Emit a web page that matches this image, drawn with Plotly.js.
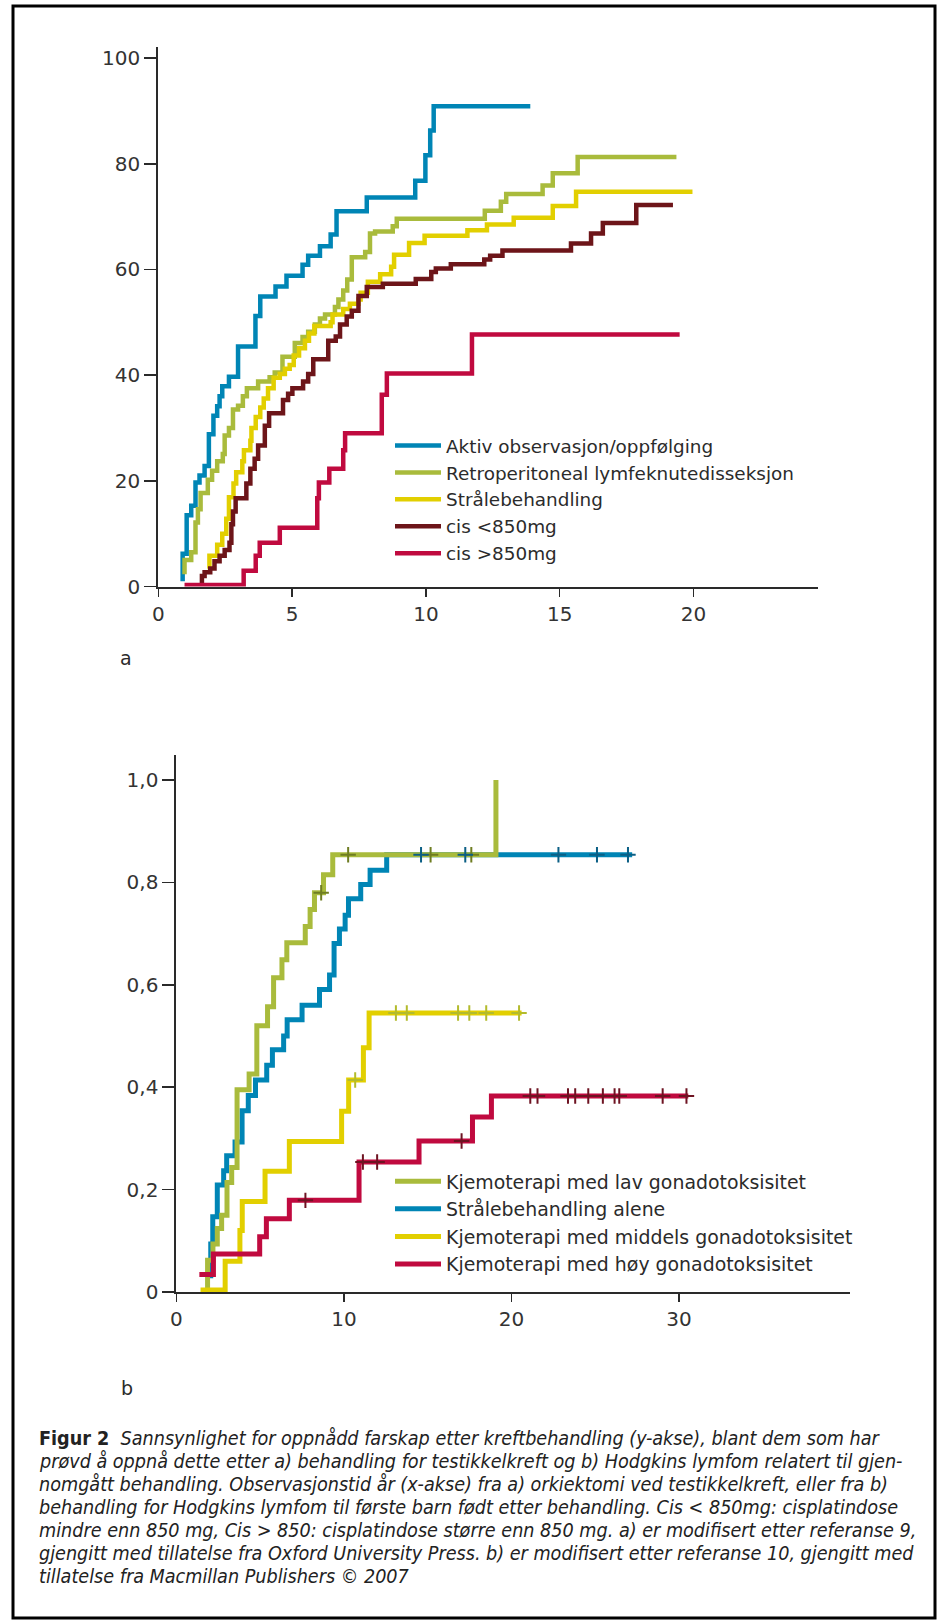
<!DOCTYPE html>
<html>
<head>
<meta charset="utf-8">
<script src="https://cdn.plot.ly/plotly-3.0.1.min.js"></script>
<style>
  html, body { margin: 0; padding: 0; background: #fff; }
  #chart { width: 941px; height: 1622px; }
</style>
</head>
<body>
<div id="chart"></div>
<script>
// ---------- Chart a: testikkelkreft ----------
const aNames = ["Aktiv observasjon/oppfølging", "Retroperitoneal lymfeknutedisseksjon", "Strålebehandling", "cis <850mg", "cis >850mg"];

const aktivX = [0.91, 0.91, 1.06, 1.23, 1.39, 1.54, 1.73, 1.89, 2.06, 2.2, 2.29, 2.39, 2.64, 2.98, 3.63, 3.81, 4.38, 4.79, 5.39, 5.6, 6.04, 6.44, 6.66, 7.79, 9.6, 9.98, 10.16, 10.29, 13.9];
const aktivY = [1, 6.2, 13.5, 15.3, 19.7, 21, 22.8, 28.8, 32.3, 34.1, 36, 37.9, 39.7, 45.4, 51.2, 54.9, 56.8, 58.8, 60.9, 62.6, 64.4, 66.6, 71, 73.6, 76.8, 81.6, 86.3, 90.9, 90.9];

const retroX = [0.98, 0.98, 1.23, 1.39, 1.48, 1.58, 1.85, 2.01, 2.2, 2.41, 2.48, 2.64, 2.79, 2.98, 3.16, 3.31, 3.73, 4.16, 4.35, 4.64, 5.1, 5.39, 5.6, 5.85, 6.04, 6.23, 6.6, 6.73, 6.91, 7.06, 7.23, 7.73, 7.91, 8.1, 8.76, 8.91, 12.2, 12.8, 13.0, 14.36, 14.74, 15.67, 19.36];
const retroY = [2.3, 5.0, 6.5, 12.1, 14.6, 17.7, 20.2, 21.9, 23.7, 25.1, 28.6, 30, 33.5, 34.2, 36, 37.5, 38.8, 39.6, 40.5, 43.5, 46.1, 47.2, 48.2, 49.6, 50.7, 51.5, 52.9, 54.3, 56, 58.1, 62.3, 63.3, 66.8, 67.2, 68.2, 69.6, 71.1, 72.8, 74.3, 75.9, 78.2, 81.3, 81.3];

const straleX = [1.85, 1.91, 2.2, 2.39, 2.54, 2.64, 2.81, 2.91, 3.14, 3.2, 3.44, 3.48, 3.64, 3.81, 3.94, 4.1, 4.31, 4.54, 4.73, 4.91, 5.06, 5.26, 5.48, 5.63, 5.83, 6.44, 6.51, 6.91, 7.16, 7.48, 7.56, 7.83, 8.29, 8.7, 8.81, 9.37, 9.95, 11.55, 12.28, 13.28, 14.74, 15.61, 19.96];
const straleY = [3.4, 5.8, 7.9, 10, 12.8, 16.9, 19.5, 21.6, 23.7, 25.8, 27.6, 30, 32.1, 33.9, 35.6, 37.5, 39.5, 40.2, 41.2, 41.9, 43.7, 45.1, 46.5, 47.9, 49.3, 50, 51.5, 52.5, 53.5, 54.3, 55.6, 57.7, 59.1, 60.5, 62.8, 65, 66.4, 67.4, 68.5, 69.8, 72.0, 74.7, 74.7];

const cisLowX = [1.63, 1.63, 1.73, 1.94, 2.1, 2.29, 2.48, 2.66, 2.73, 2.79, 2.89, 3.29, 3.44, 3.6, 3.73, 3.98, 4.14, 4.66, 4.85, 5.01, 5.41, 5.6, 5.79, 6.35, 6.63, 6.79, 7.04, 7.23, 7.48, 7.79, 8.39, 9.62, 10.2, 10.37, 10.93, 12.18, 12.4, 12.86, 15.42, 16.17, 16.61, 17.86, 19.23];
const cisLowY = [0.5, 2.0, 2.7, 3.4, 4.8, 5.8, 6.9, 8.3, 11.8, 14.2, 16.7, 19.5, 22.3, 24.2, 26.7, 30.4, 32.8, 35.3, 36.5, 37.5, 38.8, 40.2, 43, 46.5, 47.3, 49.6, 51.1, 52.2, 55, 56.7, 57.3, 58.2, 59.5, 60.2, 61, 61.9, 62.6, 63.6, 64.9, 66.8, 68.8, 72.2, 72.2];

const cisHighX = [0.98, 3.19, 3.64, 3.79, 4.54, 5.94, 6.0, 6.39, 6.91, 6.98, 8.35, 8.54, 11.72, 19.48];
const cisHighY = [0.3, 3, 5.8, 8.3, 11.1, 16.7, 19.7, 22.3, 25.8, 29, 36.3, 40.3, 47.7, 47.7];

const aXTicks = [0, 5, 10, 15, 20];
const aYTicks = [0, 20, 40, 60, 80, 100];

// ---------- Chart b: Hodgkins lymfom ----------
const bNames = ["Kjemoterapi med lav gonadotoksisitet", "Strålebehandling alene", "Kjemoterapi med middels gonadotoksisitet", "Kjemoterapi med høy gonadotoksisitet"];

const lavX = [1.86, 1.86, 2.18, 2.44, 2.7, 3.02, 3.3, 3.62, 4.34, 4.8, 5.44, 5.8, 6.3, 6.59, 7.69, 7.98, 8.24, 8.78, 9.33, 19.07, 19.07];
const lavY = [0, 0.062, 0.094, 0.124, 0.15, 0.214, 0.243, 0.395, 0.426, 0.52, 0.557, 0.614, 0.649, 0.682, 0.714, 0.747, 0.78, 0.815, 0.854, 0.854, 1.0];
const lavCensX = [8.64, 10.25, 15.17, 17.6];
const lavCensY = [0.78, 0.854, 0.854, 0.854];

const aleneX = [2.05, 2.05, 2.17, 2.44, 2.82, 3.0, 3.5, 3.92, 4.29, 4.72, 5.39, 5.73, 6.4, 6.61, 7.5, 8.54, 9.14, 9.41, 9.73, 10.07, 10.27, 11.0, 11.56, 12.55, 27.2];
const aleneY = [0.027, 0.094, 0.147, 0.209, 0.237, 0.266, 0.293, 0.354, 0.384, 0.414, 0.443, 0.473, 0.5, 0.532, 0.56, 0.591, 0.619, 0.681, 0.709, 0.736, 0.768, 0.796, 0.824, 0.854, 0.854];
const aleneCensX = [14.6, 17.24, 22.8, 25.1, 26.95];
const aleneCensY = [0.854, 0.854, 0.854, 0.854, 0.854];

const middelsX = [1.44, 2.91, 3.79, 3.93, 5.29, 6.74, 9.86, 10.28, 11.16, 11.5, 20.6];
const middelsY = [0.004, 0.06, 0.12, 0.177, 0.236, 0.294, 0.353, 0.414, 0.477, 0.545, 0.545];
const middelsCensX = [10.67, 13.1, 13.75, 16.81, 17.48, 18.49, 20.45];
const middelsCensY = [0.414, 0.545, 0.545, 0.545, 0.545, 0.545, 0.545];

const hoyX = [1.37, 2.21, 4.97, 5.37, 6.74, 10.9, 14.48, 17.67, 18.8, 30.55];
const hoyY = [0.034, 0.074, 0.108, 0.143, 0.179, 0.254, 0.295, 0.342, 0.383, 0.383];
const hoyCensX = [7.7, 11.13, 11.98, 17.02, 21.12, 21.55, 23.37, 23.8, 24.58, 25.45, 26.15, 26.43, 29.02, 30.44];
const hoyCensY = [0.179, 0.254, 0.254, 0.295, 0.383, 0.383, 0.383, 0.383, 0.383, 0.383, 0.383, 0.383, 0.383, 0.383];

const bXTicks = [0, 10, 20, 30];
const bYTicks = [0, 0.2, 0.4, 0.6, 0.8, 1.0];
const bYTickText = ["0", "0,2", "0,4", "0,6", "0,8", "1,0"];

const captionLines = [
  "<b>Figur 2</b>  <i>Sannsynlighet for oppnådd farskap etter kreftbehandling (y-akse), blant dem som har</i>",
  "<i>prøvd å oppnå dette etter a) behandling for testikkelkreft og b) Hodgkins lymfom relatert til gjen-</i>",
  "<i>nomgått behandling. Observasjonstid år (x-akse) fra a) orkiektomi ved testikkelkreft, eller fra b)</i>",
  "<i>behandling for Hodgkins lymfom til første barn født etter behandling. Cis &lt; 850mg: cisplatindose</i>",
  "<i>mindre enn 850 mg, Cis &gt; 850: cisplatindose større enn 850 mg. a) er modifisert etter referanse 9,</i>",
  "<i>gjengitt med tillatelse fra Oxford University Press. b) er modifisert etter referanse 10, gjengitt med</i>",
  "<i>tillatelse fra Macmillan Publishers © 2007</i>"
];

// ---------- styling ----------
const W = 941, H = 1622;
const px = v => v / W;
const py = v => 1 - v / H;

const C = {
  blue: "#0085b5", green: "#a9bb3c", yellow: "#e2cf00", dark: "#6d1519", crimson: "#c00a3f",
  greenC: "#6f7d22", blueC: "#0b5f85", yellowC: "#b3bb2c", crimsonC: "#6e1322"
};
const FONT = "DejaVu Sans, Liberation Sans, Arial, sans-serif";
const TXT = "#2b2b2b";

function stepTrace(x, y, name, color, xa, ya, leg, rank, w) {
  return { type: "scatter", mode: "lines", x: x, y: y, name: name,
    line: { shape: "hv", color: color, width: w },
    xaxis: xa, yaxis: ya, legend: leg, legendrank: rank, hoverinfo: "skip" };
}
function censTrace(x, y, color) {
  return { type: "scatter", mode: "markers", x: x, y: y, showlegend: false,
    marker: { symbol: "cross-thin", size: 11, line: { width: 2, color: color } },
    xaxis: "x2", yaxis: "y2", hoverinfo: "skip", cliponaxis: false };
}

const data = [
  stepTrace(aktivX, aktivY, aNames[0], C.blue, "x", "y", "legend", 1, 4.5),
  stepTrace(retroX, retroY, aNames[1], C.green, "x", "y", "legend", 2, 4.5),
  stepTrace(straleX, straleY, aNames[2], C.yellow, "x", "y", "legend", 3, 4.5),
  stepTrace(cisLowX, cisLowY, aNames[3], C.dark, "x", "y", "legend", 4, 4.5),
  stepTrace(cisHighX, cisHighY, aNames[4], C.crimson, "x", "y", "legend", 5, 4.5),

  stepTrace(aleneX, aleneY, bNames[1], C.blue, "x2", "y2", "legend2", 2, 5),
  stepTrace(lavX, lavY, bNames[0], C.green, "x2", "y2", "legend2", 1, 5),
  stepTrace(middelsX, middelsY, bNames[2], C.yellow, "x2", "y2", "legend2", 3, 5),
  stepTrace(hoyX, hoyY, bNames[3], C.crimson, "x2", "y2", "legend2", 4, 5),
  censTrace(lavCensX, lavCensY, C.greenC),
  censTrace(aleneCensX, aleneCensY, C.blueC),
  censTrace(middelsCensX, middelsCensY, C.yellowC),
  censTrace(hoyCensX, hoyCensY, C.crimsonC)
];

const axBase = {
  showline: true, linecolor: "#2a2a2a", linewidth: 2,
  ticks: "outside", tickcolor: "#2a2a2a", tickwidth: 1.5,
  showgrid: false, zeroline: false, fixedrange: true,
  tickfont: { family: FONT, size: 20, color: "#333" }
};

const legBase = {
  xanchor: "left", yanchor: "top", bgcolor: "rgba(0,0,0,0)", borderwidth: 0,
  itemwidth: 46, traceorder: "normal", tracegroupgap: 0, itemclick: false, itemdoubleclick: false
};

const annotations = [
  { text: "a", xref: "paper", yref: "paper", x: px(118), y: py(658), xanchor: "left", yanchor: "middle",
    showarrow: false, font: { family: FONT, size: 19, color: TXT } },
  { text: "b", xref: "paper", yref: "paper", x: px(119), y: py(1388), xanchor: "left", yanchor: "middle",
    showarrow: false, font: { family: FONT, size: 19, color: TXT } }
];
captionLines.forEach((t, i) => {
  annotations.push({ text: t, xref: "paper", yref: "paper", x: px(37), y: py(1438 + i * 23),
    xanchor: "left", yanchor: "middle", align: "left", showarrow: false,
    font: { family: "DejaVu Sans Condensed, Liberation Sans Narrow, sans-serif", size: 19.6, color: "#222" } });
});

const layout = {
  width: W, height: H,
  margin: { l: 0, r: 0, t: 0, b: 0, pad: 0 },
  paper_bgcolor: "#ffffff", plot_bgcolor: "rgba(0,0,0,0)",
  showlegend: true,
  xaxis: Object.assign({}, axBase, { domain: [px(158.3), px(818)], range: [0, 24.65], tickvals: aXTicks, ticklen: 8, anchor: "y" }),
  yaxis: Object.assign({}, axBase, { domain: [py(586.5), py(46.5)], range: [0, 102.2], tickvals: aYTicks, ticklen: 12, anchor: "x", ticklabelstandoff: 0 }),
  xaxis2: Object.assign({}, axBase, { domain: [px(176.4), px(850)], range: [0, 40.2], tickvals: bXTicks, ticklen: 8, anchor: "y2" }),
  yaxis2: Object.assign({}, axBase, { domain: [py(1292), py(755)], range: [0, 1.049], tickvals: bYTicks, ticktext: bYTickText, ticklen: 12, anchor: "x2", ticklabelstandoff: 0 }),
  legend: Object.assign({}, legBase, { x: px(390), y: py(427), font: { family: FONT, size: 18.4, color: TXT } }),
  legend2: Object.assign({}, legBase, { x: px(390), y: py(1162.5), font: { family: FONT, size: 18.9, color: TXT } }),
  annotations: annotations,
  shapes: [
    { type: "rect", xref: "paper", yref: "paper", x0: px(13), x1: px(935), y0: py(1618), y1: py(6),
      line: { color: "#000", width: 3 }, fillcolor: "rgba(0,0,0,0)" }
  ]
};

Plotly.newPlot("chart", data, layout, { displayModeBar: false, staticPlot: true });
</script>
</body>
</html>
